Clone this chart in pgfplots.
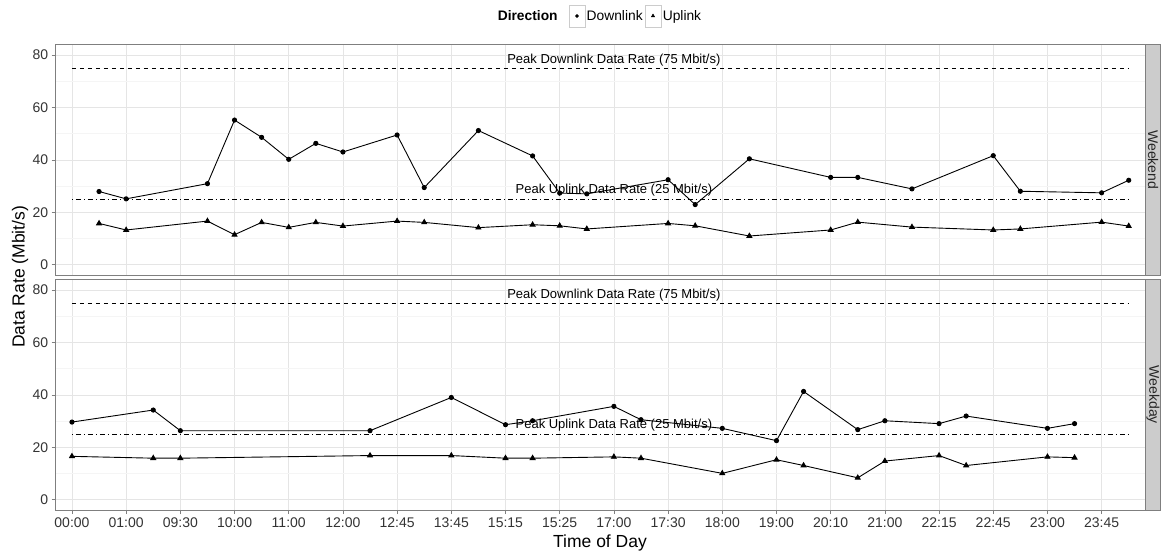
\documentclass[border=0pt]{standalone}
\usepackage{fontspec}
\setmainfont{Liberation Sans}
\usepackage{pgfplots}
\pgfplotsset{compat=1.18}
\definecolor{stripgray}{HTML}{CCCCCC}
\definecolor{bordergray}{HTML}{7F7F7F}
\definecolor{gridmajor}{HTML}{E5E5E5}
\definecolor{gridminor}{HTML}{F5F5F5}
\tikzset{peaklab/.style={font=\fontsize{13}{13}\selectfont, inner sep=0pt}}
\begin{document}
\begin{tikzpicture}[x=1pt,y=1pt]
\path[use as bounding box] (0,0) rectangle (1161,-553);
\pgfplotsset{
  panel/.style={
    scale only axis, width=1089.3pt, height=230.3pt,
    xmin=-0.6, xmax=39.6, ymin=-4, ymax=84,
    axis line style={bordergray, line width=0.6pt},
    ytick={0,20,40,60,80},
    minor ytick={10,30,50,70},
    xtick={0,2,...,38},
    grid=both,
    major grid style={gridmajor, line width=0.6pt},
    minor grid style={gridminor, line width=0.6pt},
    tick style={bordergray, line width=0.6pt},
    major tick length=4pt, minor tick length=0pt,
    tick align=outside,
    xtick pos=bottom, ytick pos=left,
    /pgf/number format/assume math mode=true,
    tick label style={font=\fontsize{14}{14}\selectfont, text=black!80},
  },
  dl/.style={black, line width=0.9pt, mark=*, mark size=2.1pt, mark options={solid}},
  ul/.style={black, line width=0.9pt, mark=triangle*, mark size=2.8pt, mark options={solid}},
  peakdl/.style={black, line width=0.8pt, dash pattern=on 4pt off 4pt},
  peakul/.style={black, line width=0.8pt, dash pattern=on 1pt off 3pt on 5pt off 3pt},
}
% ---------- Weekend panel ----------
\begin{axis}[panel, at={(55.7pt,-44.7pt)}, anchor=north west,
  xticklabels={}, xtick style={draw=none},
  legend columns=-1,
  legend style={at={(0.4992,1.1246)}, anchor=center, draw=none, fill=none,
    font=\fontsize{13.8}{13.8}\selectfont,
    /tikz/every even column/.append style={column sep=0pt},
    /tikz/every odd column/.append style={column sep=0pt},
    nodes={inner sep=0pt}},
  legend cell align=left,
]
\addlegendimage{empty legend}
\addlegendentry{\bfseries Direction\kern11pt\null}
\addlegendimage{legend image code/.code={
  \draw[black!20, fill=white, line width=0.6pt] (0pt,-11pt) rectangle (16pt,11pt);
  \path[black] plot[mark=*, mark size=1.6pt] coordinates {(8pt,0pt)};}}
\addlegendentry{\null\kern1.5pt Downlink\kern2pt\null}
\addlegendimage{legend image code/.code={
  \draw[black!20, fill=white, line width=0.6pt] (0pt,-11pt) rectangle (16pt,11pt);
  \path[black] plot[mark=triangle*, mark size=2pt] coordinates {(8pt,0pt)};}}
\addlegendentry{\null\kern1.5pt Uplink}

\addplot[peakdl, forget plot] coordinates {(0,75) (39,75)};
\addplot[peakul, forget plot] coordinates {(0,25) (39,25)};
\addplot[dl, forget plot] coordinates {
(1,27.9)(2,25.1)(5,30.9)(6,55.2)(7,48.6)(8,40.2)(9,46.3)(10,43.0)(12,49.5)(13,29.4)
(15,51.2)(17,41.5)(18,27.3)(19,27.0)(22,32.4)(23,22.9)(25,40.4)(28,33.3)(29,33.3)
(31,28.9)(34,41.6)(35,28.0)(38,27.4)(39,32.2)};
\addplot[ul, forget plot] coordinates {
(1,15.7)(2,13.2)(5,16.6)(6,11.4)(7,16.1)(8,14.2)(9,16.1)(10,14.7)(12,16.6)(13,16.1)
(15,14.1)(17,15.2)(18,14.8)(19,13.6)(22,15.7)(23,14.8)(25,10.9)(28,13.2)(29,16.2)
(31,14.3)(34,13.2)(35,13.6)(38,16.2)(39,14.7)};
\node[peaklab] at (axis cs:20,78.2) {Peak Downlink Data Rate (75 Mbit/s)};
\node[peaklab] at (axis cs:20,28.3) {Peak Uplink Data Rate (25 Mbit/s)};
\end{axis}
% ---------- Weekday panel ----------
\begin{axis}[panel, at={(55.7pt,-279.7pt)}, anchor=north west,
  xticklabels={00:00,01:00,09:30,10:00,11:00,12:00,12:45,13:45,15:15,15:25,17:00,17:30,18:00,19:00,20:10,21:00,22:15,22:45,23:00,23:45},
]
\addplot[peakdl] coordinates {(0,75) (39,75)};
\addplot[peakul] coordinates {(0,25) (39,25)};
\addplot[dl] coordinates {
(0,29.6)(3,34.2)(4,26.3)(11,26.3)(14,39.0)(16,28.6)(17,30.1)(20,35.6)(21,30.5)
(24,27.2)(26,22.5)(27,41.3)(29,26.7)(30,30.1)(32,29.0)(33,31.9)(36,27.2)(37,29.0)};
\addplot[ul] coordinates {
(0,16.5)(3,15.8)(4,15.8)(11,16.8)(14,16.8)(16,15.8)(17,15.8)(20,16.3)(21,15.8)
(24,10.0)(26,15.2)(27,13.0)(29,8.3)(30,14.7)(32,16.8)(33,13.0)(36,16.3)(37,16.0)};
\node[peaklab] at (axis cs:20,78.2) {Peak Downlink Data Rate (75 Mbit/s)};
\node[peaklab] at (axis cs:20,28.3) {Peak Uplink Data Rate (25 Mbit/s)};
\end{axis}
% ---------- strips ----------
\filldraw[fill=stripgray, draw=bordergray, line width=0.6pt] (1145,-44.7) rectangle (1160.5,-275);
\filldraw[fill=stripgray, draw=bordergray, line width=0.6pt] (1145,-279.7) rectangle (1160.5,-510);
\node[rotate=-90, font=\fontsize{14}{14}\selectfont, text=black!85] at (1153,-159.9) {Weekend};
\node[rotate=-90, font=\fontsize{14}{14}\selectfont, text=black!85] at (1153,-394.9) {Weekday};
% ---------- axis titles ----------
\node[rotate=90, font=\fontsize{17.5}{17.5}\selectfont] at (20,-277) {Data Rate (Mbit/s)};
\node[font=\fontsize{17.5}{17.5}\selectfont] at (600,-543) {Time of Day};
\end{tikzpicture}
\end{document}
